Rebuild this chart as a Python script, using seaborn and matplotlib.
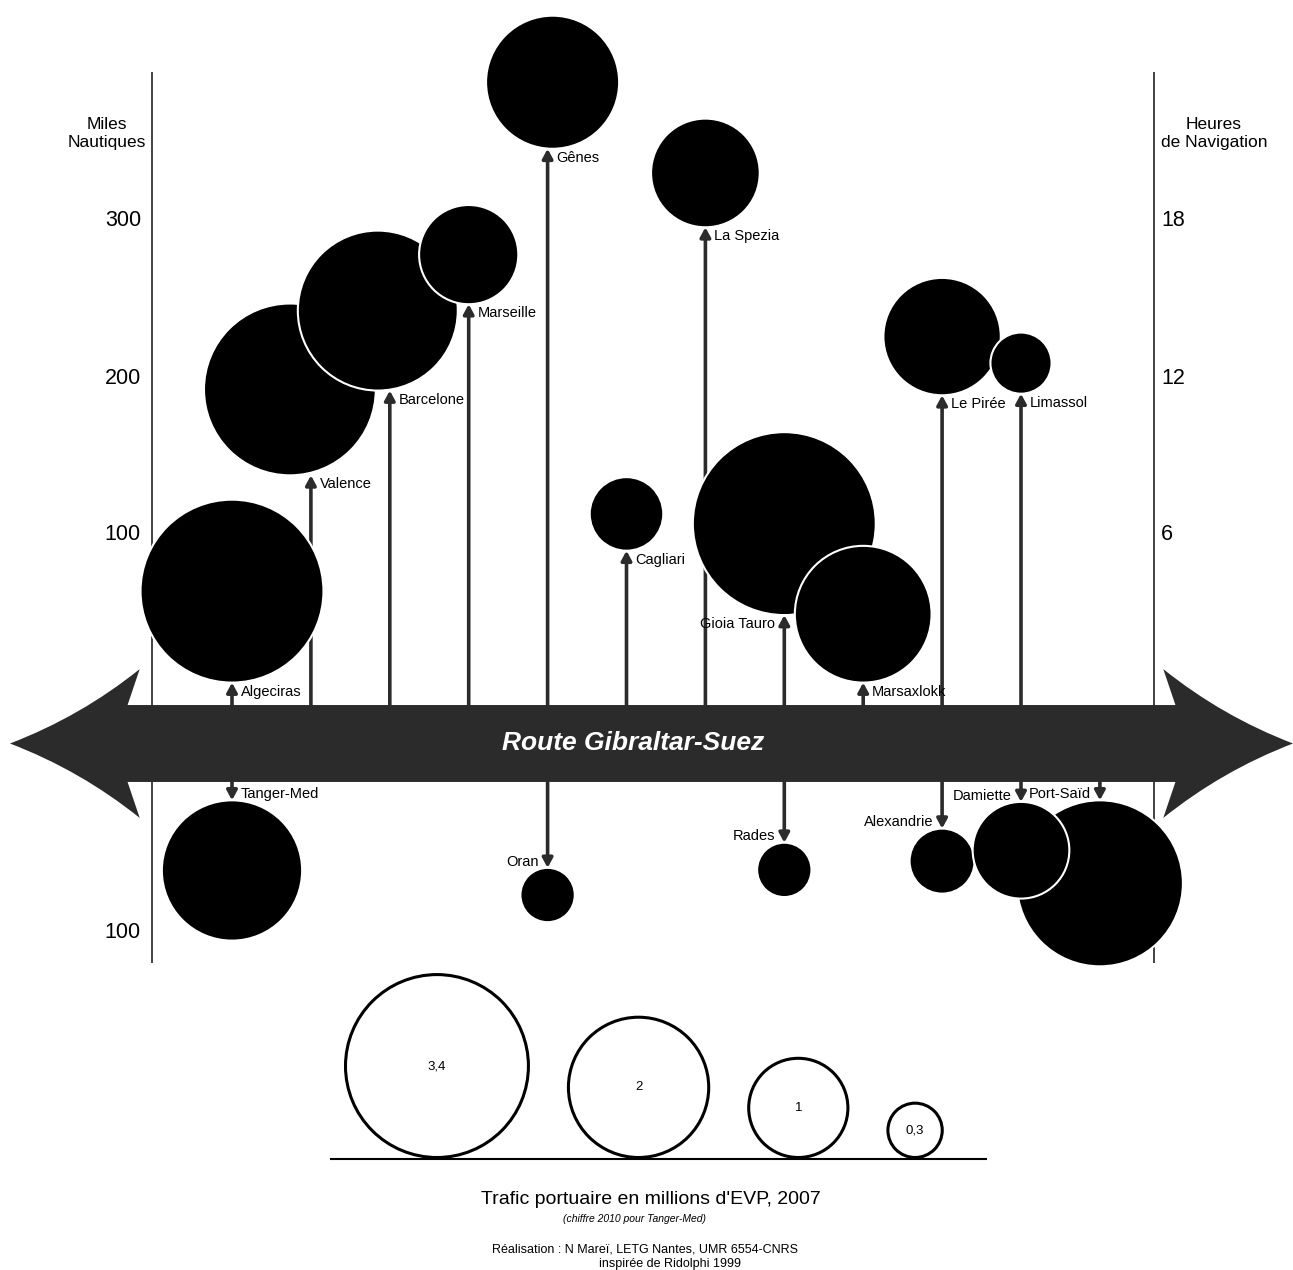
import numpy as np
import pandas as pd
import seaborn as sns
import matplotlib.pyplot as plt
from matplotlib.path import Path
from matplotlib.patches import PathPatch

# ports north of the route: position along the route, distance (nautical miles), traffic (M EVP)
north_ports = ['Algeciras', 'Valence', 'Barcelone', 'Marseille', 'Gênes', 'Cagliari',
               'La Spezia', 'Gioia Tauro', 'Marsaxlokk', 'Le Pirée', 'Limassol']
north_pos = [0, 1, 2, 3, 4, 5, 6, 7, 8, 9, 10]
north_miles = [6, 138, 192, 247, 346, 90, 296, 49, 6, 189, 190]
north_teu = [3.4, 3.0, 2.6, 1.0, 1.8, 0.55, 1.2, 3.4, 1.9, 1.4, 0.38]

# ports south of the route (Port-Said drawn before Damiette)
south_ports = ['Tanger-Med', 'Oran', 'Rades', 'Alexandrie', 'Port-Saïd', 'Damiette']
south_pos = [0, 4, 7, 9, 11, 10]
south_miles = [16, 59, 43, 34, 16, 17]
south_teu = [2.0, 0.3, 0.3, 0.43, 2.8, 0.95]

miles_ticks = [100, 200, 300]
south_ticks = [100]
hours_ticks = [6, 12, 18]

legend_teu = [3.4, 2, 1, 0.3]
legend_labels = ['3,4', '2', '1', '0,3']

# layout tweaks: labels on the left of their arrow, circles pushed sideways (pixels)
left_labels = {'Gioia Tauro', 'Oran', 'Rades', 'Alexandrie', 'Damiette', 'Port-Saïd'}
circle_nudge = {'Valence': -21, 'Barcelone': -12, 'Gênes': 5}

# scale of the drawing
W, H, DPI = 1293, 1270, 100
PX_X = 78.9      # pixels per port slot
PX_Y = 1.57      # pixels per nautical mile
DIAM = 99.2      # circle diameter in pixels for 1 M EVP
S_PER_UNIT = (DIAM * 72 / DPI) ** 2
VMAX = 3.4

band_top, band_bot = -8.3, -57.3
south_zero = -53
dark = '#2b2b2b'

sns.set_style('white')
plt.rcParams['font.family'] = ['Liberation Sans', 'DejaVu Sans']
plt.rcParams['text.color'] = 'black'

fig = plt.figure(figsize=(W / DPI, H / DPI), dpi=DPI)
ax = fig.add_axes([0, 0, 1, 1])


def radius(v):
    # circle radius in data units along y
    return DIAM * np.sqrt(v) / 2 / PX_Y


north = pd.DataFrame({'port': north_ports, 'x': north_pos, 'miles': north_miles, 'teu': north_teu})
north['tip'] = north['miles']
north['y'] = north['tip'] + radius(north['teu'])
south = pd.DataFrame({'port': south_ports, 'x': south_pos, 'miles': south_miles, 'teu': south_teu})
south['tip'] = south_zero - south['miles']
south['y'] = south['tip'] - radius(south['teu'])
ports = pd.concat([north, south], ignore_index=True)
ports['cx'] = ports['x'] + ports['port'].map(circle_nudge).fillna(0) / PX_X

# side axes
y_lo, y_hi = (692 - 963) / PX_Y, (692 - 72) / PX_Y
x_left, x_right = (152 - 232) / PX_X, (1154 - 232) / PX_X
ax.vlines([x_left, x_right], y_lo, y_hi, color='#222222', lw=1.2, zorder=1)

for m in miles_ticks:
    ax.text(x_left - 0.14, m, str(m), ha='right', va='center', fontsize=15.5)
for m in south_ticks:
    ax.text(x_left - 0.14, south_zero - m, str(m), ha='right', va='center', fontsize=15.5)
for h in hours_ticks:
    ax.text(x_right + 0.09, h * 100 / 6, str(h), ha='left', va='center', fontsize=15.5)
ax.text(x_left - 0.57, 356, 'Miles\nNautiques', ha='center', va='center', fontsize=12.5, linespacing=1.25)
ax.text(x_right + 0.76, 356, 'Heures\nde Navigation', ha='center', va='center', fontsize=12.5, linespacing=1.25)

# stems with arrows
for _, r in ports.iterrows():
    up = r['tip'] > band_top
    base = band_top if up else band_bot
    ax.annotate('', xy=(r['x'], r['tip']), xytext=(r['x'], base),
                arrowprops=dict(arrowstyle='-|>,head_length=0.7,head_width=0.38', color=dark,
                                lw=2.6, mutation_scale=8, shrinkA=0, shrinkB=0), zorder=2)
    left = r['port'] in left_labels
    dx = -6.5 if left else 6.5
    dy = -6.5 if up else 4.5
    ax.annotate(r['port'], xy=(r['x'], r['tip']), xytext=(dx, dy), textcoords='offset points',
                ha='right' if left else 'left', va='center', fontsize=10.5, zorder=5)

# route arrow
L, R = (10 - 232) / PX_X, (1293 - 232) / PX_X
mid = (band_top + band_bot) / 2
head, inner, bh = 1.644, 1.49, 47.4
cdx, cdy = 0.896, 17.2
verts = [(L, mid), (L + cdx, mid + cdy), (L + head, mid + bh), (L + inner, band_top),
         (R - inner, band_top), (R - head, mid + bh), (R - cdx, mid + cdy), (R, mid),
         (R - cdx, mid - cdy), (R - head, mid - bh), (R - inner, band_bot),
         (L + inner, band_bot), (L + head, mid - bh), (L + cdx, mid - cdy), (L, mid), (L, mid)]
codes = [Path.MOVETO, Path.CURVE3, Path.CURVE3, Path.LINETO, Path.LINETO, Path.LINETO,
         Path.CURVE3, Path.CURVE3, Path.CURVE3, Path.CURVE3, Path.LINETO, Path.LINETO,
         Path.LINETO, Path.CURVE3, Path.CURVE3, Path.CLOSEPOLY]
ax.add_patch(PathPatch(Path(verts, codes), facecolor=dark, edgecolor='none', zorder=3))
ax.text((633 - 232) / PX_X, mid, 'Route Gibraltar-Suez', color='white', fontsize=19,
        fontweight='bold', fontstyle='italic', ha='center', va='center', zorder=6)

# proportional circles
sns.scatterplot(data=ports, x='cx', y='y', size='teu', sizes=(0, S_PER_UNIT * VMAX),
                size_norm=(0, VMAX), color='black', edgecolor='white', linewidth=1.5,
                legend=False, ax=ax, zorder=4)

# legend circles
base_y = (692 - 1159) / PX_Y
gap = 37
lw_px = 3
cx, leg_x, leg_y = 344, [], []
for v in legend_teu:
    d = DIAM * np.sqrt(v) + lw_px
    leg_x.append((cx + d / 2 - 232) / PX_X)
    leg_y.append(base_y + (d / 2) / PX_Y)
    cx += d + gap
legend = pd.DataFrame({'x': leg_x, 'y': leg_y, 'teu': legend_teu})
sns.scatterplot(data=legend, x='x', y='y', size='teu', sizes=(0, S_PER_UNIT * VMAX),
                size_norm=(0, VMAX), color='white', edgecolor='black', linewidth=2.2,
                legend=False, ax=ax, zorder=4)
for x, y, t in zip(leg_x, leg_y, legend_labels):
    ax.text(x, y, t, ha='center', va='center', fontsize=9.5, zorder=5)
ax.hlines(base_y, (330 - 232) / PX_X, (987 - 232) / PX_X, color='black', lw=1.5, zorder=3)

# captions
ax.text((651 - 232) / PX_X, (692 - 1200) / PX_Y, "Trafic portuaire en millions d'EVP, 2007",
        ha='center', va='center', fontsize=14)
ax.text((635 - 232) / PX_X, (692 - 1219) / PX_Y, '(chiffre 2010 pour Tanger-Med)',
        ha='center', va='center', fontsize=7.5, fontstyle='italic')
ax.text((645 - 232) / PX_X, (692 - 1250) / PX_Y, 'Réalisation : N Mareï, LETG Nantes, UMR 6554-CNRS',
        ha='center', va='center', fontsize=9)
ax.text((670 - 232) / PX_X, (692 - 1264) / PX_Y, 'inspirée de Ridolphi 1999',
        ha='center', va='center', fontsize=9)

ax.set_xlim(-232 / PX_X, (W - 232) / PX_X)
ax.set_ylim((692 - H) / PX_Y, 692 / PX_Y)
ax.axis('off')

fig.savefig('out.png', dpi=DPI, facecolor='white')
